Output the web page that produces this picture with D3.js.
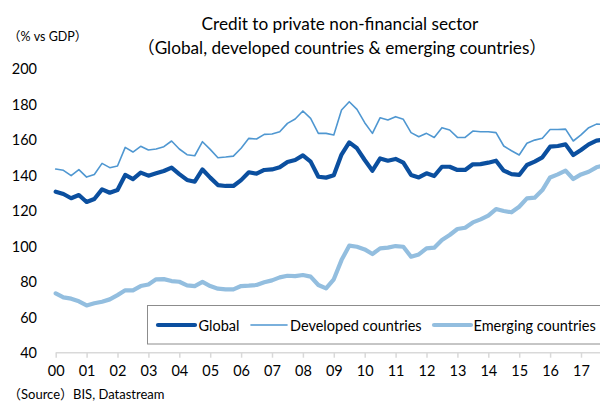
<!DOCTYPE html>
<html>
<head>
<meta charset="utf-8">
<script src="https://cdn.jsdelivr.net/npm/d3@7"></script>
<style>
  html, body { margin: 0; padding: 0; background: #fff; }
  svg { display: block; }
  text { font-family: Lato, "Noto Sans CJK JP", sans-serif; fill: #000; }
</style>
</head>
<body>
<svg id="chart" width="600" height="403"></svg>
<script>
// Year labels (one per four quarters, 2000Q1 onwards)
const yearLabels = ["00","01","02","03","04","05","06","07","08","09","10","11","12","13","14","15","16","17"];
const yTicks = [40, 60, 80, 100, 120, 140, 160, 180, 200];

// Quarterly credit to private non-financial sector, % of GDP (2000Q1 - 2017Q4)
const globalSeries = [
  130.6,129.3,126.9,128.7,124.8,126.5,131.9,130.0,131.5,140.0,137.7,141.3,
  139.6,140.9,142.2,144.1,140.5,137.2,136.2,143.1,138.5,134.3,133.8,133.8,
  137.1,141.5,140.7,142.8,143.1,144.3,147.3,148.4,151.0,147.5,139.0,138.5,
  139.8,151.5,158.3,155.0,148.4,142.4,149.3,148.0,149.0,146.9,140.0,138.6,
  140.9,139.4,144.6,144.6,142.8,142.8,146.0,146.1,146.9,148.0,142.4,140.5,
  140.0,145.6,147.5,149.9,155.9,156.3,157.2,151.2,154.0,157.2,159.3,159.8
];
const developedSeries = [
  143.3,142.6,139.6,143.0,138.8,140.3,146.5,144.1,145.0,155.5,152.9,156.1,
  154.0,154.6,155.9,159.1,154.6,151.4,150.8,158.7,154.4,149.7,150.1,150.6,
  155.0,160.6,160.2,162.8,163.0,164.3,169.0,171.5,176.0,171.8,163.4,163.4,
  162.5,176.5,181.2,176.9,169.4,163.4,172.2,170.9,172.8,171.3,163.8,161.5,
  163.4,161.1,166.6,165.3,161.1,161.1,164.7,164.3,164.3,163.8,156.3,153.6,
  151.2,157.8,159.6,160.6,165.6,165.6,165.8,159.1,162.5,166.6,168.6,168.4
];
const emergingSeries = [
  73.4,71.1,70.4,68.9,66.6,67.8,68.7,70.0,72.4,75.1,75.1,77.5,
  78.4,81.3,81.4,80.3,79.9,77.9,77.5,79.8,77.5,76.0,75.6,75.6,
  77.5,77.7,78.1,79.6,80.7,82.4,83.3,83.1,83.7,82.8,78.1,76.2,
  81.3,92.1,100.2,99.6,98.1,95.5,98.7,99.1,100.0,99.6,94.0,95.3,
  98.7,99.1,103.4,106.2,109.6,110.3,113.3,115.0,117.1,120.8,119.7,119.0,
  122.1,126.8,127.2,131.5,138.6,140.3,142.4,137.7,140.3,141.8,144.3,145.4
];

const seriesNames = ["Global", "Developed countries", "Emerging countries"];

const svg = d3.select("#chart");
const W = 600;

// quarter index -> x ; 2000Q1 sits on the "00" tick
const x = d3.scaleLinear().domain([0, 4]).range([55.7, 86.6]);
const y = d3.scaleLinear().domain([40, 200]).range([352.7, 68.3]);

const styles = [
  { data: emergingSeries, color: "#93bedf", width: 4.2 },
  { data: developedSeries, color: "#4f97d1", width: 1.6 },
  { data: globalSeries,   color: "#0b4f9f", width: 4.2 }
];

// Titles
svg.append("text").attr("x", 340).attr("y", 30).attr("text-anchor", "middle")
  .style("font-size", "17.2px").text("Credit to private non-financial sector");
svg.append("text").attr("x", 342).attr("y", 54).attr("text-anchor", "middle")
  .style("font-size", "17.2px").text("（Global, developed countries & emerging countries）");
svg.append("text").attr("x", 8).attr("y", 41).style("font-size", "12.5px").text("（% vs GDP）");

// Y axis labels only
const yAxis = d3.axisLeft(y).tickValues(yTicks).tickSize(0).tickPadding(0);
const gy = svg.append("g").attr("transform", "translate(37,0)").call(yAxis);
gy.select(".domain").remove();
gy.selectAll("text").style("font-size", "14.5px").style("font-family", "Lato, sans-serif").attr("fill", "#000").attr("dy", "0.36em");

// X axis: baseline with year ticks
const yearIdx = yearLabels.map((d, i) => i * 4);
const xAxis = d3.axisBottom(x).tickValues(yearIdx).tickFormat((d, i) => yearLabels[i])
  .tickSize(5).tickSizeOuter(0).tickPadding(8);
const gx = svg.append("g").attr("transform", `translate(0,${y(40)})`).call(xAxis);
gx.select(".domain").attr("stroke", "#d9d9d9").attr("stroke-width", 1.5)
  .attr("d", `M${x(0)},0H${W}`);
gx.selectAll(".tick line").attr("stroke", "#d9d9d9").attr("stroke-width", 1.5);
gx.selectAll("text").style("font-size", "14.5px").style("font-family", "Lato, sans-serif").attr("fill", "#000");

// Lines
svg.append("clipPath").attr("id", "plotclip")
  .append("rect").attr("x", 0).attr("y", 0).attr("width", W).attr("height", 403);
const line = d3.line().x((d, i) => x(i)).y(d => y(d)).curve(d3.curveLinear);
const gl = svg.append("g").attr("clip-path", "url(#plotclip)");
styles.forEach(s => {
  gl.append("path").datum(s.data).attr("d", line)
    .attr("fill", "none").attr("stroke", s.color).attr("stroke-width", s.width)
    .attr("stroke-linejoin", "round").attr("stroke-linecap", "round");
});

// Legend
const lg = svg.append("g");
lg.append("rect").attr("x", 147.5).attr("y", 305.5).attr("width", 460).attr("height", 38.5)
  .attr("fill", "#fff").attr("stroke", "#8c8c8c").attr("stroke-width", 1);
const legendItems = [
  { name: seriesNames[0], color: "#0b4f9f", width: 4.2, x0: 158, x1: 195, tx: 198.5 },
  { name: seriesNames[1], color: "#4f97d1", width: 1.6, x0: 251, x1: 287, tx: 290 },
  { name: seriesNames[2], color: "#93bedf", width: 4.2, x0: 434, x1: 471, tx: 473.5 }
];
legendItems.forEach(it => {
  lg.append("line").attr("x1", it.x0).attr("x2", it.x1).attr("y1", 325).attr("y2", 325)
    .attr("stroke", it.color).attr("stroke-width", it.width).attr("stroke-linecap", "round");
  lg.append("text").attr("x", it.tx).attr("y", 330.5).style("font-size", "14.5px").text(it.name);
});

// Source
svg.append("text").attr("x", 8).attr("y", 399).style("font-size", "13px").text("（Source）BIS, Datastream");
</script>
</body>
</html>
